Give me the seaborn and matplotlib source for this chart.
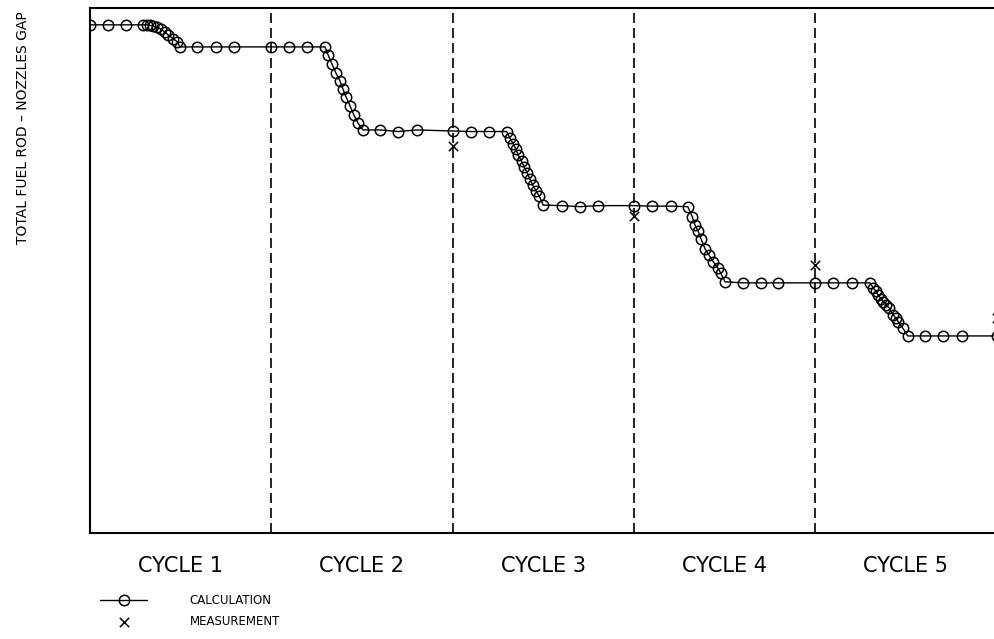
import matplotlib
matplotlib.use("Agg")
import matplotlib.pyplot as plt
import matplotlib.transforms as mtransforms
import seaborn as sns
import pandas as pd

# ---- data (x in fuel cycles, y relative gap) ----
calc_x = [0.000, 0.099, 0.199, 0.292,
          0.314, 0.331, 0.347, 0.370, 0.392, 0.414, 0.430, 0.458, 0.480, 0.496,
          0.590, 0.695, 0.794, 1.000, 1.098, 1.197, 1.296,
          1.313, 1.335, 1.357, 1.379, 1.395, 1.412, 1.434, 1.456, 1.478, 1.506,
          1.600, 1.699, 1.804, 2.000, 2.100, 2.201, 2.298,
          2.317, 2.335, 2.350, 2.362, 2.381, 2.394, 2.412, 2.427, 2.442, 2.460, 2.478, 2.500,
          2.602, 2.703, 2.802, 3.000, 3.100, 3.205, 3.297,
          3.322, 3.337, 3.355, 3.370, 3.392, 3.414, 3.438, 3.462, 3.480, 3.502,
          3.603, 3.699, 3.797, 4.000, 4.100, 4.204, 4.302,
          4.321, 4.335, 4.348, 4.362, 4.376, 4.392, 4.409, 4.431, 4.445, 4.458, 4.483, 4.510,
          4.606, 4.707, 4.808, 5.000]
calc_y = [96.7, 96.7, 96.7, 96.7,
          96.7, 96.6, 96.5, 96.2, 95.9, 95.3, 94.8, 94.1, 93.5, 92.5,
          92.5, 92.5, 92.5, 92.5, 92.5, 92.5, 92.5,
          91.0, 89.2, 87.5, 86.0, 84.5, 83.0, 81.3, 79.5, 78.0, 76.7,
          76.7, 76.4, 76.7, 76.5, 76.4, 76.4, 76.4,
          75.1, 74.0, 73.0, 71.9, 70.7, 69.7, 68.5, 67.3, 66.2, 65.1, 64.1, 62.4,
          62.3, 62.1, 62.3, 62.3, 62.2, 62.2, 62.1,
          60.2, 58.6, 57.4, 56.0, 54.1, 52.9, 51.6, 50.5, 49.4, 47.8,
          47.6, 47.6, 47.6, 47.6, 47.6, 47.6, 47.6,
          46.6, 46.0, 45.3, 44.6, 44.0, 43.4, 42.8, 41.5, 40.9, 40.2, 39.0, 37.5,
          37.5, 37.5, 37.5, 37.5]

meas_x = [2.0, 3.0, 4.0, 5.0]
meas_y = [73.6, 60.3, 51.0, 40.9]

cycle_bounds = [1, 2, 3, 4]
cycle_labels = ["CYCLE 1", "CYCLE 2", "CYCLE 3", "CYCLE 4", "CYCLE 5"]
cycle_centers = [0.5, 1.5, 2.5, 3.5, 4.5]

ylabel_text = "TOTAL FUEL ROD \u2013 NOZZLES GAP"
legend_labels = ["CALCULATION", "MEASUREMENT"]

# ---- plotting ----
sns.set_style("white")
plt.rcParams["font.family"] = ["DejaVu Sans"]
plt.rcParams["text.color"] = "black"

fig = plt.figure(figsize=(9.94, 6.39), dpi=100)
ax = fig.add_axes([90 / 994, 106 / 639, 906.5 / 994, 525.5 / 639])

calc_df = pd.DataFrame({"x": calc_x, "y": calc_y})
meas_df = pd.DataFrame({"x": meas_x, "y": meas_y})

for b in cycle_bounds:
    ax.axvline(b, color="black", lw=1.2, ls=(0, (6, 3)), zorder=1)

sns.lineplot(data=calc_df, x="x", y="y", sort=False, ax=ax, color="black",
             lw=1.0, marker="o", markersize=7.5, markerfacecolor="none",
             markeredgecolor="black", markeredgewidth=1.1,
             label=legend_labels[0], zorder=3)
sns.scatterplot(data=meas_df, x="x", y="y", ax=ax, marker="x", color="black",
                s=45, linewidth=1.1, label=legend_labels[1], zorder=4)

ax.set_xlim(0, 5)
ax.set_ylim(0, 100)
ax.set_xticks([])
ax.set_yticks([])
ax.set_xlabel("")
ax.set_ylabel("")
for side in ["left", "top", "bottom"]:
    ax.spines[side].set_color("black")
    ax.spines[side].set_linewidth(1.5)
ax.spines["right"].set_visible(False)

trans = mtransforms.blended_transform_factory(ax.transData, ax.transAxes)
for cx, lab in zip(cycle_centers, cycle_labels):
    ax.text(cx, -0.0742, lab, transform=trans, ha="center", va="baseline",
            fontsize=15, color="black")

fig.text(23 / 994, 1 - 128 / 639, ylabel_text, rotation=90, ha="center",
         va="center", fontsize=10, color="black")

leg = ax.legend(loc="upper left", bbox_to_anchor=(100 / 994, 1 - 594 / 639),
                bbox_transform=fig.transFigure, frameon=False, fontsize=8.5,
                handlelength=4.0, handletextpad=3.6, labelspacing=0.65,
                borderpad=0, borderaxespad=0, numpoints=1, labelcolor="black")

fig.savefig("out.png", dpi=100)
